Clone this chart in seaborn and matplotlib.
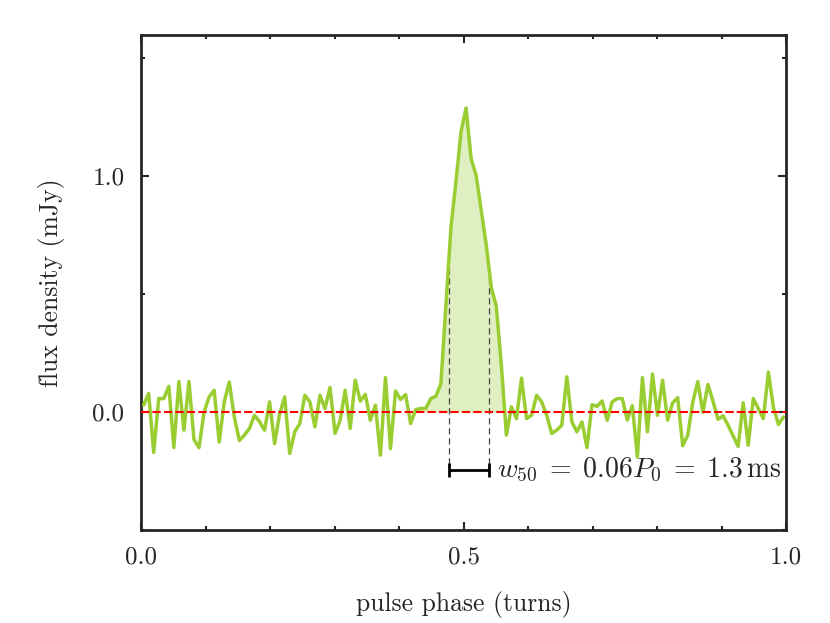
import numpy as np
import pandas as pd
import seaborn as sns
import matplotlib.pyplot as plt
from matplotlib.ticker import MultipleLocator, FormatStrFormatter

# perfil de pulso (mJy), 128 bins de fase
flux = [
    0.03, 0.08, -0.17, 0.058, 0.058, 0.11, -0.15, 0.13, -0.076, 0.13,
    -0.116, -0.15, 0.0, 0.065, 0.093, -0.126, 0.044, 0.128, -0.02, -0.12,
    -0.097, -0.069, -0.013, -0.04, -0.076, 0.044, -0.133, -0.006, 0.065, -0.175,
    -0.083, -0.048, 0.072, 0.044, -0.062, 0.072, 0.016, 0.105, -0.09, -0.034,
    0.093, -0.069, 0.136, 0.047, 0.076, -0.034, 0.03, -0.182, 0.147, -0.154,
    0.09, 0.054, 0.075, -0.048, 0.011, 0.016, 0.016, 0.058, 0.068, 0.121,
    0.45, 0.785, 0.98, 1.19, 1.29, 1.075, 1.004, 0.857, 0.71, 0.53,
    0.449, 0.2, -0.097, 0.023, -0.027, 0.145, -0.027, -0.013, 0.072, 0.044,
    -0.013, -0.09, -0.076, -0.055, 0.15, -0.041, -0.083, -0.041, -0.15, 0.032,
    0.025, 0.048, -0.034, 0.044, 0.058, 0.058, -0.033, 0.028, -0.19, 0.147,
    -0.083, 0.162, -0.013, 0.136, -0.034, 0.04, 0.062, -0.142, -0.097, 0.044,
    0.13, 0.0, 0.118, 0.047, -0.03, -0.015, -0.055, -0.1, -0.145, 0.04,
    -0.14, 0.058, 0.015, -0.027, 0.17, 0.02, -0.052, -0.02,
]
n_bins = len(flux)
phase = (np.arange(n_bins) + 0.5) / n_bins
on_pulse = (np.arange(n_bins) >= 53) & (np.arange(n_bins) <= 72)

# largura a meia altura
w50_left = 0.4775
w50_right = 0.5395
half_level = 0.61
bar_y = -0.245
label_w50 = r'$w_{50} \;=\; 0.06P_0 \;=\; 1.3\,\mathrm{ms}$'

df = pd.DataFrame({'fase': phase, 'fluxo': flux})

sns.set_style("ticks")
plt.rcParams['font.family'] = 'serif'
plt.rcParams['font.serif'] = ['cmr10', 'DejaVu Serif']
plt.rcParams['mathtext.fontset'] = 'cm'
plt.rcParams['axes.formatter.use_mathtext'] = True

verde = '#9acd32'

fig = plt.figure(figsize=(8.3, 6.23), dpi=100)
ax = fig.add_axes([0.170, 0.149, 0.777, 0.795])

fl = np.array(flux)
ax.fill_between(phase, fl, 0, where=on_pulse & (fl > 0), interpolate=True,
                color=verde, alpha=0.3, lw=0, zorder=1)
sns.lineplot(data=df, x='fase', y='fluxo', color=verde, lw=2.5, ax=ax, zorder=3)
ax.axhline(0, color='red', lw=1.5, ls=(0, (4, 1.5)), zorder=4)

for xv in (w50_left, w50_right):
    ax.plot([xv, xv], [bar_y + 0.025, half_level], color='#444444', lw=0.9,
            ls=(0, (5, 3)), zorder=2)
ax.errorbar((w50_left + w50_right) / 2, bar_y, xerr=(w50_right - w50_left) / 2,
            color='black', lw=2, capsize=5, capthick=2, zorder=5)
ax.text(0.552, bar_y, label_w50, fontsize=20, va='center', ha='left')

ax.set_xlim(0, 1)
ax.set_ylim(-0.5, 1.6)
ax.xaxis.set_major_locator(MultipleLocator(0.5))
ax.xaxis.set_minor_locator(MultipleLocator(0.1))
ax.yaxis.set_major_locator(MultipleLocator(1.0))
ax.yaxis.set_minor_locator(MultipleLocator(0.5))
ax.xaxis.set_major_formatter(FormatStrFormatter('%.1f'))
ax.yaxis.set_major_formatter(FormatStrFormatter('%.1f'))
ax.tick_params(which='both', direction='in', top=True, right=True,
               labelsize=18, width=1.5)
ax.tick_params(which='major', length=6, pad=12)
ax.tick_params(which='minor', length=3)
for s in ax.spines.values():
    s.set_linewidth(2)

ax.set_xlabel('pulse phase (turns)', fontsize=18.5, labelpad=16)
ax.set_ylabel('flux density (mJy)', fontsize=18.5, labelpad=20)

fig.savefig('out.png', dpi=100)
